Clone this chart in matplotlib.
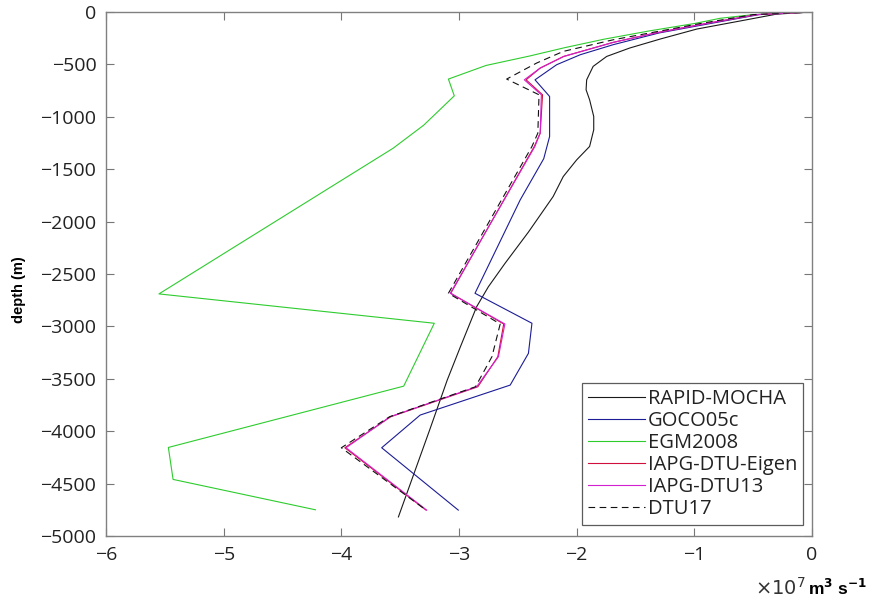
import matplotlib
matplotlib.use("Agg")
import matplotlib.pyplot as plt

# ---- data (x in 1e7 m^3/s, depth in m) ----
mocha_depth = [0, -20, -74, -163, -258, -344, -424, -519, -647, -742, -838, -997, -1124,
               -1283, -1411, -1570, -1761, -2100, -2400, -2621, -2812, -3200, -3512, -3990, -4818]
mocha_val = [0, -0.30, -0.555, -0.98, -1.29, -1.55, -1.745, -1.86, -1.915, -1.92, -1.89, -1.855, -1.855,
             -1.89, -2.00, -2.114, -2.20, -2.41, -2.61, -2.75, -2.85, -2.99, -3.10, -3.25, -3.515]

goco_depth = [0, -25, -105, -200, -312, -408, -503, -647, -806, -1188, -1400, -1793, -2684,
              -2970, -3257, -3560, -3846, -4158, -4753]
goco_val = [0, -0.45, -0.84, -1.30, -1.69, -1.97, -2.17, -2.354, -2.23, -2.23, -2.28, -2.48, -2.864,
            -2.38, -2.41, -2.565, -3.33, -3.657, -3.006]

egm_depth = [0, -25, -60, -110, -180, -260, -340, -420, -510, -640, -800, -1080, -1300, -2690,
             -2970, -3570, -4155, -4460, -4750]
egm_val = [0, -0.50, -0.78, -1.00, -1.38, -1.77, -2.10, -2.40, -2.77, -3.09, -3.04, -3.30, -3.56, -5.55,
           -3.21, -3.47, -5.47, -5.43, -4.22]

eigen_depth = [0, -25, -110, -200, -290, -424, -535, -647, -790, -1156, -1283, -2684,
               -2977, -3289, -3576, -3862, -4158, -4753]
eigen_val = [0, -0.47, -0.90, -1.33, -1.69, -2.11, -2.31, -2.43, -2.29, -2.31, -2.36, -3.07,
             -2.62, -2.67, -2.84, -3.58, -3.97, -3.28]

dtu13_depth = [0, -25, -110, -200, -290, -424, -535, -647, -790, -1156, -1283, -2684,
               -2977, -3289, -3576, -3862, -4158, -4753]
dtu13_val = [0, -0.47, -0.90, -1.33, -1.689, -2.11, -2.31, -2.445, -2.30, -2.31, -2.355, -3.074,
             -2.61, -2.665, -2.85, -3.586, -3.96, -3.275]

dtu17_depth = [0, -25, -110, -265, -376, -487, -640, -790, -1156, -1283, -2684,
               -2977, -3289, -3576, -3862, -4158, -4753]
dtu17_val = [0, -0.50, -0.95, -1.689, -2.114, -2.34, -2.595, -2.32, -2.33, -2.38, -3.09,
             -2.65, -2.72, -2.86, -3.59, -4.00, -3.28]

series_names = ["RAPID-MOCHA", "GOCO05c", "EGM2008", "IAPG-DTU-Eigen", "IAPG-DTU13", "DTU17"]
x_ticks = [-6, -5, -4, -3, -2, -1, 0]
y_ticks = [0, -500, -1000, -1500, -2000, -2500, -3000, -3500, -4000, -4500, -5000]

fig = plt.figure(figsize=(8.73, 6.0), dpi=100)
ax = fig.add_axes([106/873, 64/600, 706/873, 524/600])

lw = 0.8
ax.plot(mocha_val, mocha_depth, color="#1a1a1a", lw=lw, label=series_names[0])
ax.plot(goco_val, goco_depth, color="#1c1c96", lw=lw, label=series_names[1])
ax.plot(egm_val, egm_depth, color="#2ecc2e", lw=lw, label=series_names[2])
ax.plot(eigen_val, eigen_depth, color="#d0103a", lw=lw, label=series_names[3])
ax.plot(dtu13_val, dtu13_depth, color="#d21fd2", lw=lw, label=series_names[4])
ax.plot(dtu17_val, dtu17_depth, color="#111111", lw=lw, ls=(0, (6, 4)), label=series_names[5])

ax.set_xlim(-6, 0)
ax.set_ylim(-5000, 0)
ax.set_xticks(x_ticks)
ax.set_yticks(y_ticks)
tick_font = dict(family="Open Sans", size=14)
ax.set_xticklabels([f"{t}".replace("-", "\u2212") for t in x_ticks], fontdict=tick_font, color="#222222")
ax.set_yticklabels([f"{t}".replace("-", "\u2212") for t in y_ticks], fontdict=tick_font, color="#222222")
ax.tick_params(direction="in", length=6, width=0.8, color="#777777", top=True, right=True, pad=7)
for s in ax.spines.values():
    s.set_color("#808080")
    s.set_linewidth(1.0)

ax.set_ylabel("depth (m)", fontsize=10.5, fontweight="bold", family="Liberation Sans")
ax.yaxis.set_label_coords(-0.113, 0.47)

leg = ax.legend(loc="lower right", bbox_to_anchor=(803/873, 75/600), bbox_transform=fig.transFigure,
                borderaxespad=0, frameon=True, fancybox=False, handlelength=2.8, handletextpad=0.15,
                labelspacing=0.1, borderpad=0.3, prop=dict(family="Open Sans", size=14.5))
leg.get_frame().set_edgecolor("#333333")
leg.get_frame().set_linewidth(0.9)
for t in leg.get_texts():
    t.set_color("#222222")

fig.text(806/873, 5/600, r"$\times10^{7}$", fontsize=14, ha="right", va="baseline",
         family="Open Sans", color="#333333")
fig.text(808/873, 5/600, r"m$^{\mathbf{3}}$ s$^{\mathbf{-1}}$", fontsize=12.5, ha="left", va="baseline",
         family="Liberation Sans", fontweight="bold")

fig.savefig("out.png", dpi=100)
